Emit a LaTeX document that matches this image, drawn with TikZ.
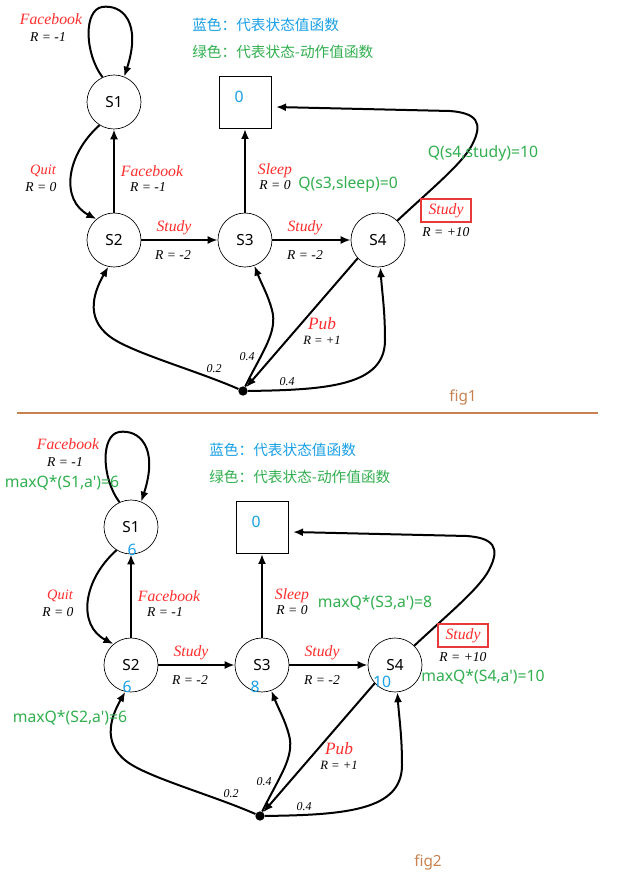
\documentclass[tikz,border=0pt]{standalone}
\usepackage{fontspec}
\setmainfont{Liberation Serif}
\newfontfamily\cjkfont{Noto Sans CJK SC}
\newfontfamily\latfont{Noto Sans}
\usetikzlibrary{arrows.meta}
\definecolor{lblred}{RGB}{255,45,45}
\definecolor{boxred}{RGB}{232,58,58}
\definecolor{valblue}{RGB}{25,160,230}
\definecolor{qgreen}{RGB}{50,175,80}
\definecolor{figbrown}{RGB}{200,130,80}
\tikzset{
  mstate/.style={circle, draw, line width=0.5pt, minimum size=40.5pt, inner sep=0pt, font=\latfont\fontsize{11.5}{12}\selectfont},
  term/.style={rectangle, draw, line width=0.7pt, minimum size=39pt, inner sep=0pt},
  arr/.style={line width=1.5pt, -{Latex[length=7.5pt,width=6pt]}},
  act/.style={text=lblred, inner sep=0pt, font=\itshape\fontsize{11.8}{12}\selectfont},
  rew/.style={inner sep=0pt, font=\itshape\fontsize{10.2}{11}\selectfont},
  prob/.style={inner sep=0pt, font=\itshape\fontsize{9}{10}\selectfont},
  qval/.style={text=qgreen, inner sep=0pt, font=\latfont\fontsize{11.8}{13}\selectfont},
  vval/.style={text=valblue, inner sep=0pt, font=\latfont\fontsize{11.8}{13}\selectfont},
  legend/.style={anchor=west, inner sep=0pt, font=\cjkfont\fontsize{11}{13}\selectfont},
  dotnode/.style={circle, fill, minimum size=7pt, inner sep=0pt},
  figlbl/.style={text=figbrown, inner sep=0pt, font=\latfont\fontsize{11.5}{12}\selectfont},
}
\newcommand{\mdpdiagram}{%
  \node[legend, text=valblue] (LB) at (192,25) {蓝色：代表状态值函数};
  \node[legend, text=qgreen] (LG) at (192,52) {绿色：代表状态-动作值函数};
  \node[mstate] (S1) at (114,102) {S1};
  \node[mstate] (S2) at (114,240) {S2};
  \node[mstate] (S3) at (245,240) {S3};
  \node[mstate] (S4) at (378,240) {S4};
  \node[term] (T) at (245,102.5) {};
  \node[vval] (T0) at (239,97) {0};
  \node[dotnode] (D) at (243,391) {};
  \coordinate (Tin) at (276,107);
  % edges
  \draw[arr] (S1.115) .. controls (84,52) and (84,10) .. (102,7) .. controls (122,4) and (142,22) .. (S1.68);
  \draw[arr] (S1.238) .. controls (66,155) and (60,200) .. (S2.130);
  \draw[arr] (S2) -- (S1);
  \draw[arr] (S2) -- (S3);
  \draw[arr] (S3) -- (S4);
  \draw[arr] (S3) -- (T);
  \draw[arr] (S4.45) .. controls (430,190) and (462,164) .. (472,145) .. controls (484,122) and (476,113) .. (450,111) -- (Tin);
  \draw[arr] (S4.222) -- (D);
  \draw[arr] (D) .. controls (200,372) and (140,355) .. (115,340) .. controls (85,322) and (92,295) .. (S2.258);
  \draw[arr] (D) .. controls (262,352) and (278,332) .. (272,310) .. controls (268,295) and (262,285) .. (S3.290);
  \draw[arr] (D) .. controls (330,390) and (385,385) .. (385,340) .. controls (385,310) and (382,292) .. (S4.275);
  % labels
  \node[act] (aFB1) at (51,19) {Facebook};
  \node[rew] (rFB1) at (48,37) {R = -1};
  \node[act, font=\itshape\fontsize{10.8}{11}\selectfont] (aQ) at (43,171) {Quit};
  \node[rew] (rQ) at (41,187) {R = 0};
  \node[act] (aFB2) at (152,171) {Facebook};
  \node[rew] (rFB2) at (148,187) {R = -1};
  \node[act] (aSt1) at (174,228) {Study};
  \node[rew] (rSt1) at (173,255) {R = -2};
  \node[act] (aSt2) at (305,228) {Study};
  \node[rew] (rSt2) at (305,255) {R = -2};
  \node[act] (aSl) at (275,171) {Sleep};
  \node[rew] (rSl) at (275,185) {R = 0};
  \node[act, draw=boxred, line width=1.5pt, minimum width=37.5pt, minimum height=17pt] (aSt3) at (446,210.5) {Study};
  \node[rew] (rSt3) at (446,232) {R = +10};
  \node[act, font=\itshape\fontsize{13}{14}\selectfont] (aP) at (322,324) {Pub};
  \node[rew, font=\itshape\fontsize{9.5}{10}\selectfont] (rP) at (322,340) {R = +1};
  \node[prob] (p1) at (214,369) {0.2};
  \node[prob] (p2) at (247,357) {0.4};
  \node[prob] (p3) at (287,382) {0.4};
}
\begin{document}
\begin{tikzpicture}[x=0.75pt, y=-0.75pt]
  \useasboundingbox (0,0) rectangle (640,878);
  \fill[white] (0,0) rectangle (640,878);
  % figure 1
  \mdpdiagram
  \node[qval] (q1) at (348,184) {Q(s3,sleep)=0};
  \node[qval] (q2) at (483,153) {Q(s4,study)=10};
  \node[figlbl] (f1) at (463,397) {fig1};
  % separator
  \draw[figbrown, line width=0.8pt] (17,413) -- (598,413);
  % figure 2
  \begin{scope}[shift={(17,425)}]
    \mdpdiagram
    \node[qval] (m1) at (45,58) {maxQ*(S1,a')=6};
    \node[vval] (v1) at (115,125) {6};
    \node[vval] (v2) at (110,262) {6};
    \node[vval] (v3) at (238,262) {8};
    \node[vval] (v4) at (365,257) {10};
    \node[qval] (m2) at (53,293) {maxQ*(S2,a')=6};
    \node[qval] (m3) at (358,178) {maxQ*(S3,a')=8};
    \node[qval] (m4) at (466,252) {maxQ*(S4,a')=10};
  \end{scope}
  \node[figlbl] (f2) at (428,862) {fig2};
\end{tikzpicture}
\end{document}
